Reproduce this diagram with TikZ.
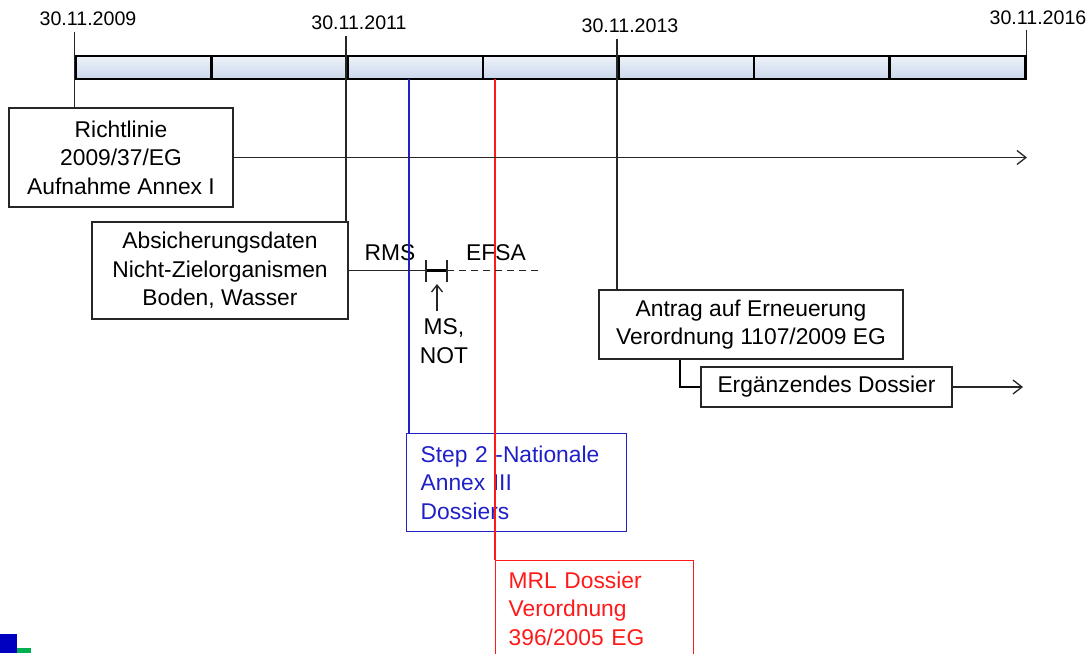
\documentclass[tikz,border=0pt]{standalone}
\usepackage{fontspec}
\setmainfont{Liberation Sans}
\usetikzlibrary{positioning,arrows.meta}
\definecolor{barTop}{HTML}{EEF2F9}
\definecolor{barBot}{HTML}{CAD7EB}
\definecolor{natBlue}{HTML}{2020C8}
\definecolor{mrlRed}{HTML}{FF1A1A}
\definecolor{logoBlue}{HTML}{0000C0}
\definecolor{logoGreen}{HTML}{00B050}
\tikzset{
		box/.style={
			draw=black!85, line width=1.3pt, align=center, inner sep=0pt,
			font=\fontsize{22.8}{28.5}\selectfont},
		seg/.style={
			draw=black, line width=2.6pt, top color=barTop, bottom color=barBot,
			minimum width=135.6pt, minimum height=23pt, inner sep=0pt},
		datum/.style={font=\fontsize{19.6}{24}\selectfont, inner sep=0pt, outer ysep=6pt},
		txt/.style={font=\fontsize{22.8}{28.5}\selectfont, inner sep=0pt},
		dateline/.style={draw, line width=1.3pt, black!85},
		pfeil/.style={dateline, ->},
	}
\def\segw{135.6}

\begin{document}
\begin{tikzpicture}[
			x=1pt, y=-1pt, >={Straight Barb[length=9pt,width=14pt]}]
			\fill[white] (0,0) rectangle (1089,653);
			\clip (0,0) rectangle (1089,653);
			% timeline
			\foreach \i in {0,...,6}
				\node[seg] (s\i) at ({76+\segw*(\i+0.5)},67.5) {};
			\node[datum] (d2009) at (88,19) {30.11.2009};
			\node[datum] (d2011) at (359,23) {30.11.2011};
			\node[datum] (d2013) at (630,26) {30.11.2013};
			\node[datum] (d2016) at (1038,17.5) {30.11.2016};
			% boxes
			\node[box, minimum width=224pt, minimum height=99pt] (richt) at (121,157.5)
				{Richtlinie\\2009/37/EG\\Aufnahme Annex I};
			\node[box, minimum width=256pt, minimum height=97pt] (absich) at (220,270.5)
				{Absicherungsdaten\\Nicht-Zielorganismen\\Boden, Wasser};
			\node[box, minimum width=304pt, minimum height=69pt] (antrag) at (751,324.5)
				{Antrag auf Erneuerung\\Verordnung 1107/2009 EG};
			\node[box, minimum width=251pt, minimum height=40pt] (erg) at (826.5,387)
				{Ergänzendes Dossier};
			\node[box, draw=natBlue, text=natBlue, align=left, anchor=north west,
				minimum width=220pt, minimum height=98pt, text width=192pt] (nat) at (406,433)
				{Step 2 -Nationale\\Annex III\\Dossiers};
			\node[box, draw=mrlRed, text=mrlRed, align=left, anchor=north west,
				minimum width=198pt, minimum height=96pt, text width=172pt] (mrl) at (495,560)
				{MRL Dossier\\Verordnung\\396/2005 EG};
			\node[txt] (rms) at (390,253) {RMS};
			\node[txt] (efsa) at (496,253) {EFSA};
			\node[txt, align=center] (msnot) at (444,341) {MS,\\NOT};
			% date lines
			\draw[dateline] (d2009.south -| s0.west) -- (richt.north -| s0.west);
			\draw[dateline] (d2011.south -| s2.west) -- (absich.north -| s2.west);
			\draw[dateline] (d2013.south -| s4.west) -- (antrag.north -| s4.west);
			\draw[dateline] (d2016.south -| s6.east) -- (s6.north east);
			% blue and red lines
			\coordinate (bl) at (409,79);
			\coordinate (rl) at (495,79);
			\draw[natBlue, line width=1.3pt] (bl) -- (bl |- nat.north);
			\draw[mrlRed, line width=1.3pt] (rl) -- (rl |- mrl.north);
			% arrows
			\coordinate (rend) at (1027,157.5);
			\draw[pfeil] (richt.east) -- (rend);
			\coordinate (t1) at (426,270.5);
			\coordinate (t2) at (447,270.5);
			\coordinate (dend) at (543,270.5);
			\draw[dateline] (absich.east) -- (t1);
			\draw[line width=2.2pt] (t1) -- (t2);
			\draw[dateline] (t1) ++(0,-11) -- ++(0,22);
			\draw[dateline] (t2) ++(0,-11) -- ++(0,22);
			\draw[dateline, dash pattern=on 7pt off 5pt] (t2) -- (dend);
			\coordinate (mspfeil) at (437,284);
			\draw[pfeil, shorten <=7pt, >={Straight Barb[length=7pt,width=11pt]}]
				(mspfeil |- msnot.north) -- (mspfeil);
			\coordinate (ak) at (680,0);
			\draw[line width=2.4pt] (antrag.south -| ak) |- (erg.west);
			\coordinate (eend) at (1023,387);
			\draw[pfeil] (erg.east) -- (eend);
			% logo corner
			\fill[logoBlue] (0,634) rectangle (17,653);
			\fill[logoGreen] (17,648) rectangle (31,653);
			\end{tikzpicture}
\end{document}
